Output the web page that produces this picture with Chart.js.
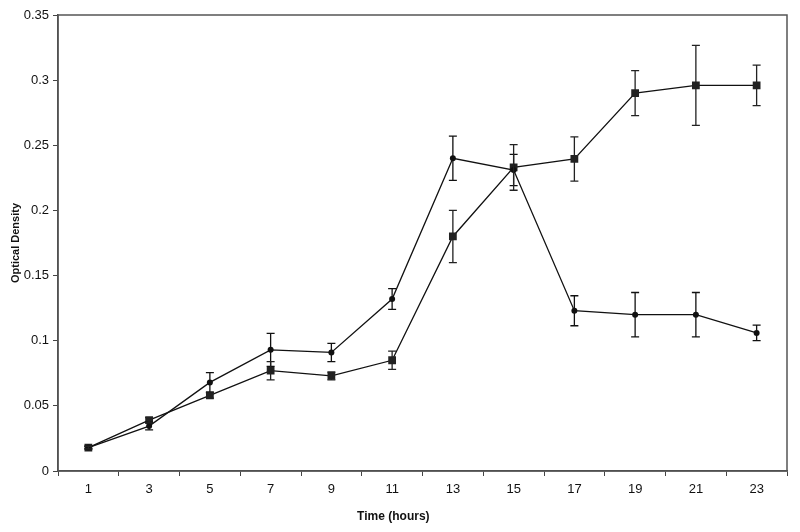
<!DOCTYPE html>
<html>
<head>
<meta charset="utf-8">
<script src="https://cdn.jsdelivr.net/npm/chart.js@4/dist/chart.umd.min.js"></script>
<style>
  html, body { margin: 0; padding: 0; background: #fff; }
  #wrap { width: 800px; height: 532px; }
</style>
</head>
<body>
<div id="wrap"><canvas id="odChart" width="800" height="532"></canvas></div>
<script>
const hours = ["1", "3", "5", "7", "9", "11", "13", "15", "17", "19", "21", "23"];
const circleOD = [0.018, 0.0345, 0.068, 0.093, 0.091, 0.132, 0.240, 0.231, 0.123, 0.120, 0.120, 0.106];
const circleErr = [0.001, 0.003, 0.0075, 0.0127, 0.007, 0.008, 0.017, 0.012, 0.0115, 0.017, 0.017, 0.006];
const squareOD = [0.018, 0.039, 0.058, 0.077, 0.073, 0.085, 0.180, 0.233, 0.2395, 0.290, 0.296, 0.296];
const squareErr = [0.001, 0.002, 0.002, 0.007, 0.003, 0.007, 0.020, 0.0175, 0.017, 0.0173, 0.0307, 0.0155];
const yTicks = [0, 0.05, 0.1, 0.15, 0.2, 0.25, 0.3, 0.35];

const font = "'Liberation Sans', Arial, sans-serif";

// error bars + frame + x title
const extras = {
    id: "extras",
    afterDatasetsDraw(chart) {
        const c = chart.ctx;
        const x = chart.scales.x, y = chart.scales.y;
        const sets = [[circleOD, circleErr, "#111"], [squareOD, squareErr, "#222"]];
        c.save();
        c.lineWidth = 1.3;
        sets.forEach(([vals, errs, col]) => {
            c.strokeStyle = col;
            vals.forEach((v, i) => {
                const px = x.getPixelForValue(i);
                const top = y.getPixelForValue(v + errs[i]);
                const bot = y.getPixelForValue(v - errs[i]);
                c.beginPath();
                c.moveTo(px, top); c.lineTo(px, bot);
                c.moveTo(px - 4, top); c.lineTo(px + 4, top);
                c.moveTo(px - 4, bot); c.lineTo(px + 4, bot);
                c.stroke();
            });
        });
        const a = chart.chartArea;
        c.strokeStyle = "#555";
        c.lineWidth = 1.5;
        c.strokeRect(a.left, a.top, a.right - a.left, a.bottom - a.top);
        c.fillStyle = "#111";
        c.font = "bold 12px " + font;
        c.textAlign = "center";
        c.textBaseline = "middle";
        c.fillText("Time (hours)", a.left + (a.right - a.left) * 0.46, 517);
        c.restore();
    }
};

new Chart(document.getElementById("odChart"), {
    type: "line",
    data: {
        labels: hours,
        datasets: [
            {
                label: "circles",
                data: circleOD,
                borderColor: "#111",
                backgroundColor: "#111",
                borderWidth: 1.3,
                pointStyle: "circle",
                pointRadius: 3,
                pointBorderWidth: 0,
                tension: 0
            },
            {
                label: "squares",
                data: squareOD,
                borderColor: "#111",
                backgroundColor: "#222",
                borderWidth: 1.3,
                pointStyle: "rect",
                pointRadius: 5.5,
                pointBorderWidth: 0,
                tension: 0
            }
        ]
    },
    options: {
        responsive: false,
        animation: false,
        layout: { padding: { top: 15, right: 13, left: 0, bottom: 0 } },
        plugins: { legend: { display: false }, tooltip: { enabled: false } },
        scales: {
            x: {
                offset: true,
                grid: { offset: true, drawOnChartArea: false, tickLength: 5, color: "#444" },
                border: { color: "#444", width: 1.5 },
                ticks: { color: "#111", font: { family: font, size: 13 }, padding: 6, maxRotation: 0 },
                afterFit(s) { s.height = 61; }
            },
            y: {
                min: 0,
                max: 0.35,
                afterBuildTicks(s) { s.ticks = yTicks.map(v => ({ value: v })); },
                grid: { drawOnChartArea: false, tickLength: 5, color: "#444" },
                border: { color: "#444", width: 1.5 },
                ticks: {
                    color: "#111",
                    font: { family: font, size: 13 },
                    padding: 4,
                    callback: v => String(v)
                },
                title: {
                    display: true,
                    text: "Optical Density",
                    color: "#111",
                    font: { family: font, size: 11, weight: "bold" },
                    padding: { top: 9, bottom: 0 }
                },
                afterFit(s) { s.width = 58; }
            }
        }
    },
    plugins: [extras]
});
</script>
</body>
</html>
